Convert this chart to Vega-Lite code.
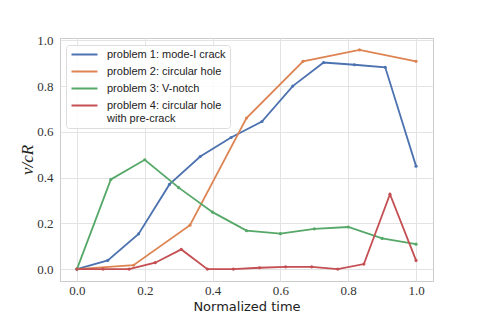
{
  "$schema": "https://vega.github.io/schema/vega-lite/v6.json",
  "autosize": "none",
  "width": 373,
  "height": 243,
  "padding": {"left": 60, "top": 38, "right": 47, "bottom": 39},
  "background": "white",
  "config": {
    "view": {"stroke": "#cccccc", "strokeWidth": 1},
    "axis": {
      "gridColor": "#e3e3e3",
      "gridWidth": 1,
      "domain": false,
      "ticks": false,
      "labelFont": "Liberation Serif",
      "labelFontSize": 13,
      "labelColor": "#333333",
      "labelPadding": 7
    }
  },
  "data": {
    "values": [
      {"t": 0.0, "v": 0.0, "problem": "problem 1: mode-I crack"},
      {"t": 0.0909, "v": 0.038, "problem": "problem 1: mode-I crack"},
      {"t": 0.1818, "v": 0.154, "problem": "problem 1: mode-I crack"},
      {"t": 0.2727, "v": 0.37, "problem": "problem 1: mode-I crack"},
      {"t": 0.3636, "v": 0.492, "problem": "problem 1: mode-I crack"},
      {"t": 0.4545, "v": 0.575, "problem": "problem 1: mode-I crack"},
      {"t": 0.5455, "v": 0.645, "problem": "problem 1: mode-I crack"},
      {"t": 0.6364, "v": 0.8, "problem": "problem 1: mode-I crack"},
      {"t": 0.7273, "v": 0.903, "problem": "problem 1: mode-I crack"},
      {"t": 0.8182, "v": 0.893, "problem": "problem 1: mode-I crack"},
      {"t": 0.9091, "v": 0.882, "problem": "problem 1: mode-I crack"},
      {"t": 1.0, "v": 0.45, "problem": "problem 1: mode-I crack"},
      {"t": 0.0, "v": 0.0, "problem": "problem 2: circular hole"},
      {"t": 0.1667, "v": 0.017, "problem": "problem 2: circular hole"},
      {"t": 0.3333, "v": 0.192, "problem": "problem 2: circular hole"},
      {"t": 0.5, "v": 0.66, "problem": "problem 2: circular hole"},
      {"t": 0.6667, "v": 0.908, "problem": "problem 2: circular hole"},
      {"t": 0.8333, "v": 0.958, "problem": "problem 2: circular hole"},
      {"t": 1.0, "v": 0.908, "problem": "problem 2: circular hole"},
      {"t": 0.0, "v": 0.0, "problem": "problem 3: V-notch"},
      {"t": 0.1, "v": 0.392, "problem": "problem 3: V-notch"},
      {"t": 0.2, "v": 0.478, "problem": "problem 3: V-notch"},
      {"t": 0.3, "v": 0.356, "problem": "problem 3: V-notch"},
      {"t": 0.4, "v": 0.249, "problem": "problem 3: V-notch"},
      {"t": 0.5, "v": 0.168, "problem": "problem 3: V-notch"},
      {"t": 0.6, "v": 0.155, "problem": "problem 3: V-notch"},
      {"t": 0.7, "v": 0.176, "problem": "problem 3: V-notch"},
      {"t": 0.8, "v": 0.184, "problem": "problem 3: V-notch"},
      {"t": 0.9, "v": 0.134, "problem": "problem 3: V-notch"},
      {"t": 1.0, "v": 0.109, "problem": "problem 3: V-notch"},
      {"t": 0.0, "v": 0.0, "problem": "problem 4: circular hole with pre-crack"},
      {"t": 0.0769, "v": 0.0, "problem": "problem 4: circular hole with pre-crack"},
      {"t": 0.1538, "v": 0.0, "problem": "problem 4: circular hole with pre-crack"},
      {"t": 0.2308, "v": 0.028, "problem": "problem 4: circular hole with pre-crack"},
      {"t": 0.3077, "v": 0.086, "problem": "problem 4: circular hole with pre-crack"},
      {"t": 0.3846, "v": 0.0, "problem": "problem 4: circular hole with pre-crack"},
      {"t": 0.4615, "v": 0.0, "problem": "problem 4: circular hole with pre-crack"},
      {"t": 0.5385, "v": 0.006, "problem": "problem 4: circular hole with pre-crack"},
      {"t": 0.6154, "v": 0.01, "problem": "problem 4: circular hole with pre-crack"},
      {"t": 0.6923, "v": 0.01, "problem": "problem 4: circular hole with pre-crack"},
      {"t": 0.7692, "v": 0.0, "problem": "problem 4: circular hole with pre-crack"},
      {"t": 0.8462, "v": 0.022, "problem": "problem 4: circular hole with pre-crack"},
      {"t": 0.9231, "v": 0.327, "problem": "problem 4: circular hole with pre-crack"},
      {"t": 1.0, "v": 0.038, "problem": "problem 4: circular hole with pre-crack"}
    ]
  },
  "mark": {"type": "line", "strokeWidth": 1.8, "point": {"filled": true, "size": 10}},
  "encoding": {
    "x": {
      "field": "t", "type": "quantitative",
      "scale": {"domain": [-0.05, 1.05], "nice": false, "zero": false},
      "axis": {"values": [0, 0.2, 0.4, 0.6, 0.8, 1.0], "format": ".1f", "title": "Normalized time", "labelPadding": 3,
               "titleFont": "DejaVu Sans", "titleFontSize": 13, "titleFontWeight": "normal", "titlePadding": 3, "titleColor": "#222222"}
    },
    "y": {
      "field": "v", "type": "quantitative",
      "scale": {"domain": [-0.052, 1.01], "nice": false, "zero": false},
      "axis": {"values": [0, 0.2, 0.4, 0.6, 0.8, 1.0], "format": ".1f", "title": "v/cR",
               "titleFont": "Liberation Serif", "titleFontStyle": "italic", "titleFontSize": 17, "titleFontWeight": "normal", "titlePadding": 0, "titleColor": "#222222"}
    },
    "color": {
      "field": "problem", "type": "nominal",
      "scale": {"range": ["#4C72B0", "#DD8452", "#55A868", "#C44E52"]},
      "legend": {
        "title": null,
        "orient": "none",
        "legendX": 6,
        "legendY": 7,
        "symbolType": "M-3,0H3",
        "symbolSize": 75,
        "symbolStrokeWidth": 2,
        "symbolOffset": 9,
        "labelOffset": 17,
        "labelFont": "Liberation Sans",
        "labelFontSize": 11,
        "labelColor": "#222222",
        "labelLimit": 300,
        "rowPadding": 5,
        "padding": 4,
        "strokeColor": "#dddddd",
        "fillColor": "rgba(255,255,255,0.85)",
        "cornerRadius": 3,
        "labelExpr": "datum.label == 'problem 4: circular hole with pre-crack' ? ['problem 4: circular hole', 'with pre-crack'] : datum.label"
      }
    }
  }
}
